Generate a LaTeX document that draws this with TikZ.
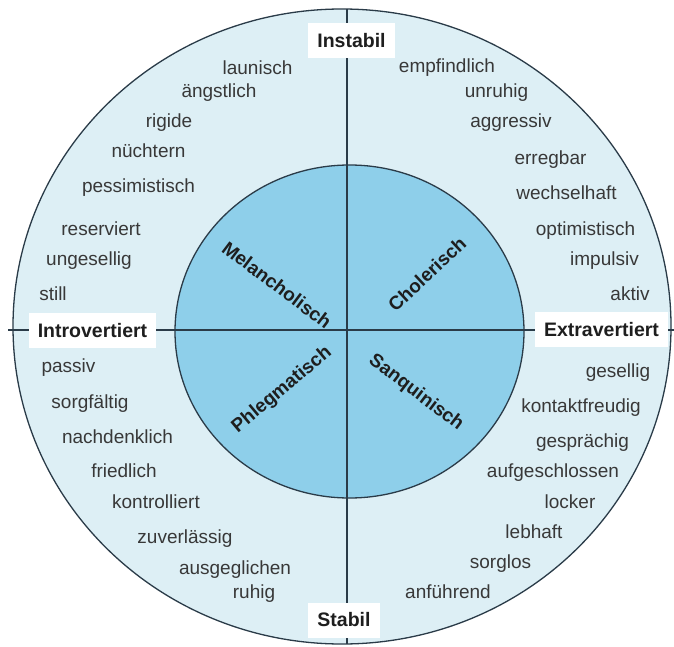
\documentclass[tikz,border=0pt]{standalone}
\usepackage{fontspec}
\setmainfont{Liberation Sans}
\definecolor{outerfill}{HTML}{DDEFF5}
\definecolor{innerfill}{HTML}{8ECFEA}
\definecolor{linec}{HTML}{2A3B48}
\definecolor{txt}{HTML}{383838}
\definecolor{boldtxt}{HTML}{1E1E1E}
\begin{document}
\begin{tikzpicture}[x=1pt,y=-1pt,
  word/.style={anchor=base, text=txt, font=\fontsize{19}{22}\selectfont, inner sep=0pt},
  axislabel/.style={fill=white, text=boldtxt, font=\fontsize{19.5}{22}\selectfont\bfseries, inner xsep=9pt, inner ysep=0pt, minimum height=35pt, anchor=center},
  temper/.style={text=boldtxt, font=\fontsize{19}{22}\selectfont\bfseries, inner sep=0pt, anchor=center},
  axisline/.style={draw=linec, line width=1.3pt},
  ring/.style={draw=linec, line width=1.3pt}]
\useasboundingbox (0,0) rectangle (674,647);
\fill[white] (0,0) rectangle (674,647);
% circles
\draw[ring, fill=outerfill] (342,326.5) ellipse [x radius=329, y radius=317.5];
\draw[ring, fill=innerfill] (349.5,331.5) ellipse [x radius=174.5, y radius=166.5];
% axes
\coordinate (ntop) at (347,9);
\coordinate (nbot) at (347,644);
\coordinate (nleft) at (8,330);
\coordinate (nright) at (674,330);
\draw[axisline] (ntop) -- (nbot);
\draw[axisline] (nleft) -- (nright);
% axis labels
\node[axislabel] (instabil) at (351.5,40.5) {Instabil};
\node[axislabel] (stabil) at (344,620) {Stabil};
\node[axislabel] (intro) at (92.5,330.5) {Introvertiert};
\node[axislabel] (extra) at (601.5,329.5) {Extravertiert};
% temperaments
\node[temper, rotate=-37] (mel) at (277,285) {Melancholisch};
\node[temper, rotate=43] (chol) at (427,274) {Cholerisch};
\node[temper, rotate=40] (phleg) at (282,390) {Phlegmatisch};
\node[temper, rotate=-37] (sanq) at (416,393) {Sanquinisch};
% upper left
\node[word] (w1) at (257.5,75) {launisch};
\node[word] (w2) at (219,98) {ängstlich};
\node[word] (w3) at (169,128) {rigide};
\node[word] (w4) at (148.5,158) {nüchtern};
\node[word] (w5) at (138.5,193) {pessimistisch};
\node[word] (w6) at (101,235) {reserviert};
\node[word] (w7) at (89,265) {ungesellig};
\node[word] (w8) at (53,300) {still};
% upper right
\node[word] (e1) at (447,73) {empfindlich};
\node[word] (e2) at (496.5,98) {unruhig};
\node[word] (e3) at (511,128) {aggressiv};
\node[word] (e4) at (550.5,165) {erregbar};
\node[word] (e5) at (566.5,200) {wechselhaft};
\node[word] (e6) at (585.5,235) {optimistisch};
\node[word] (e7) at (604.5,265) {impulsiv};
\node[word] (e8) at (630,300) {aktiv};
% lower left
\node[word] (s1) at (68.5,372) {passiv};
\node[word] (s2) at (90,408) {sorgfältig};
\node[word] (s3) at (117.5,443) {nachdenklich};
\node[word] (s4) at (124,477) {friedlich};
\node[word] (s5) at (156,508) {kontrolliert};
\node[word] (s6) at (185,543) {zuverlässig};
\node[word] (s7) at (235,574) {ausgeglichen};
\node[word] (s8) at (254,598) {ruhig};
% lower right
\node[word] (x1) at (618,377) {gesellig};
\node[word] (x2) at (581,412) {kontaktfreudig};
\node[word] (x3) at (582.5,447) {gesprächig};
\node[word] (x4) at (553,477) {aufgeschlossen};
\node[word] (x5) at (570,508) {locker};
\node[word] (x6) at (534,538) {lebhaft};
\node[word] (x7) at (500.5,568) {sorglos};
\node[word] (x8) at (448,598) {anführend};
\end{tikzpicture}
\end{document}
